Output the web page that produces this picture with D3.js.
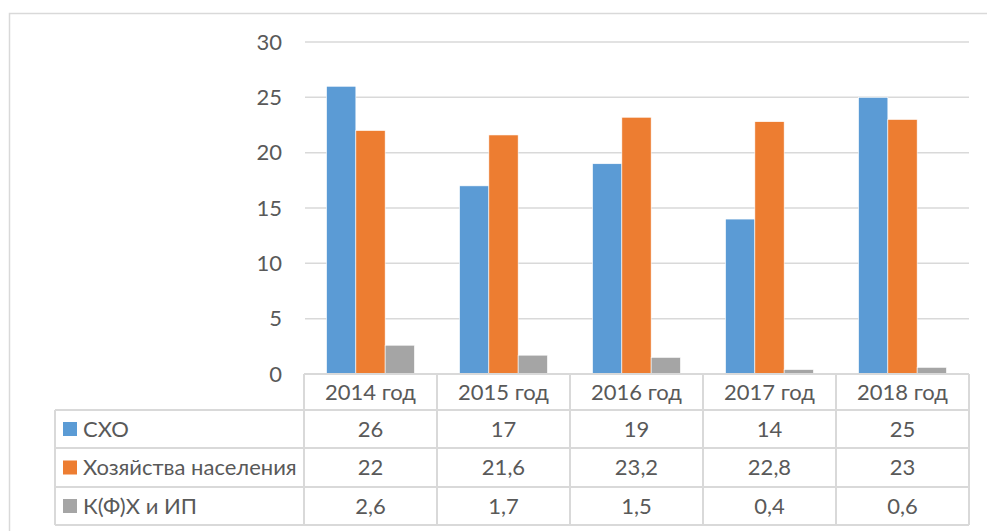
<!DOCTYPE html>
<html><head><meta charset="utf-8">
<script src="https://cdn.jsdelivr.net/npm/d3@7"></script>
<style>body{margin:0;background:#fff}svg{display:block}text{font-family:Lato,"Noto Sans",sans-serif;fill:#595959}</style>
</head><body><svg id="c" width="987" height="531"></svg>
<script>
const categories = ["2014 год","2015 год","2016 год","2017 год","2018 год"];
const seriesNames = ["СХО","Хозяйства населения","К(Ф)Х и ИП"];
const sxo = [26,17,19,14,25];
const households = [22,21.6,23.2,22.8,23];
const farms = [2.6,1.7,1.5,0.4,0.6];
const seriesValues = [sxo, households, farms];
const colors = ["#5B9BD5","#ED7D31","#A5A5A5"];
const yTicks = [0,5,10,15,20,25,30];

const svg = d3.select("#c");
const grid = "#D9D9D9";
const fs = 22;
svg.append("rect").attr("x",9.5).attr("y",13.5).attr("width",1000).attr("height",600)
  .attr("fill","none").attr("stroke",grid).attr("stroke-width",1.5);

const x0 = 304, x1 = 969, yTop = 42, yZero = 374;
const x = d3.scaleBand().domain(categories).range([x0,x1]).paddingInner(0).paddingOuter(0);
const xs = d3.scaleBand().domain(seriesNames).range([0,x.bandwidth()]).paddingInner(0).paddingOuter(0.77);
const y = d3.scaleLinear().domain([0,30]).range([yZero,yTop]);

// gridlines
svg.append("g").selectAll("line").data(yTicks.filter(t=>t>0)).join("line")
  .attr("x1",x0+1).attr("x2",x1).attr("y1",d=>y(d)).attr("y2",d=>y(d))
  .attr("stroke",grid).attr("stroke-width",1.5);
// y tick labels
svg.append("g").selectAll("text").data(yTicks).join("text")
  .attr("x",282).attr("y",d=>y(d)).attr("dy","0.35em").attr("text-anchor","end")
  .attr("font-size",fs).text(d=>d);

// bars
seriesNames.forEach((s,si)=>{
  svg.append("g").selectAll("rect").data(categories).join("rect")
    .attr("x",c=>x(c)+xs(s)).attr("width",xs.bandwidth())
    .attr("y",(c,i)=>y(seriesValues[si][i])).attr("height",(c,i)=>yZero-y(seriesValues[si][i]))
    .attr("fill",colors[si]).attr("stroke","#fff").attr("stroke-width",0.6);
});

// data table
const rowTops = [374,410,448,487,525];
const labelX = 55;
const tg = svg.append("g");
const hl = (xa,xb,yy)=>tg.append("line").attr("x1",xa).attr("x2",xb).attr("y1",yy).attr("y2",yy).attr("stroke",grid).attr("stroke-width",2);
const vl = (xx,ya,yb)=>tg.append("line").attr("x1",xx).attr("x2",xx).attr("y1",ya).attr("y2",yb).attr("stroke",grid).attr("stroke-width",2);
hl(x0,x1,rowTops[0]);
for(let r=1;r<rowTops.length;r++) hl(labelX,x1,rowTops[r]);
vl(labelX,rowTops[1],rowTops[4]);
categories.forEach(c=>vl(x(c),rowTops[0],rowTops[4]));
vl(x1,rowTops[0],rowTops[4]);

// header labels
svg.append("g").selectAll("text").data(categories).join("text")
  .attr("x",c=>x(c)+x.bandwidth()/2).attr("y",(rowTops[0]+rowTops[1])/2).attr("dy","0.35em")
  .attr("text-anchor","middle").attr("font-size",fs).text(c=>c);
// rows
seriesNames.forEach((s,si)=>{
  const yc = (rowTops[si+1]+rowTops[si+2])/2;
  svg.append("rect").attr("x",63).attr("y",yc-7).attr("width",14).attr("height",14).attr("fill",colors[si]);
  svg.append("text").attr("x",83).attr("y",yc).attr("dy","0.35em").attr("font-size",fs).text(s);
  svg.append("g").selectAll("text").data(categories).join("text")
    .attr("x",c=>x(c)+x.bandwidth()/2).attr("y",yc).attr("dy","0.35em")
    .attr("text-anchor","middle").attr("font-size",fs)
    .text((c,i)=>String(seriesValues[si][i]).replace(".",","));
});
</script></body></html>
